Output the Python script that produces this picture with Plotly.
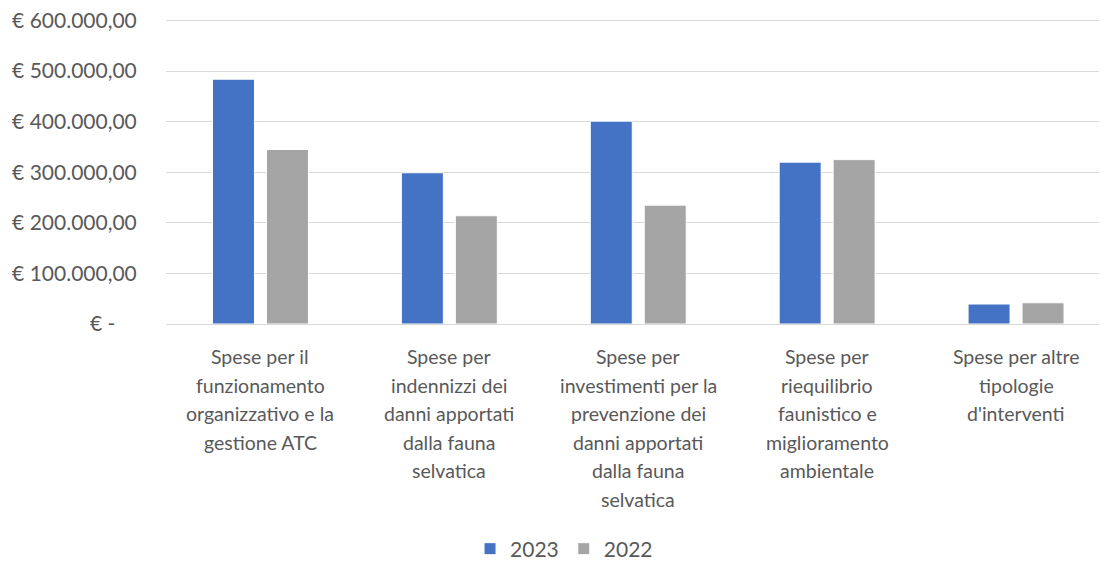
import plotly.graph_objects as go

categories = [
    "Spese per il<br>funzionamento<br>organizzativo e la<br>gestione ATC",
    "Spese per<br>indennizzi dei<br>danni apportati<br>dalla fauna<br>selvatica",
    "Spese per<br>investimenti per la<br>prevenzione dei<br>danni apportati<br>dalla fauna<br>selvatica",
    "Spese per<br>riequilibrio<br>faunistico e<br>miglioramento<br>ambientale",
    "Spese per altre<br>tipologie<br>d'interventi",
]
values_2023 = [484000, 299000, 401000, 320000, 39500]
values_2022 = [345000, 214000, 235000, 325000, 42000]
tick_vals = [0, 100000, 200000, 300000, 400000, 500000, 600000]
tick_text = ["€ -\u00a0\u00a0\u00a0\u00a0", "€ 100.000,00", "€ 200.000,00", "€ 300.000,00",
             "€ 400.000,00", "€ 500.000,00", "€ 600.000,00"]

FONT = "Lato"
TXT = "#595959"
LINE_PITCH = 28.6

fig = go.Figure()
fig.add_trace(go.Bar(x=list(range(5)), y=values_2023, name="2023",
                     marker=dict(color="#4472C4", line=dict(color="white", width=1))))
fig.add_trace(go.Bar(x=list(range(5)), y=values_2022, name="2022",
                     marker=dict(color="#A5A5A5", line=dict(color="white", width=1))))

# category labels, one annotation per line for Excel-like line spacing
for i, label in enumerate(categories):
    for k, line in enumerate(label.split("<br>")):
        fig.add_annotation(x=i, xref="x", y=0, yref="paper", text=line,
                           showarrow=False, xanchor="center", yanchor="middle",
                           yshift=-(32.5 + k * LINE_PITCH),
                           font=dict(size=19.5, color=TXT, family=FONT))

fig.update_layout(
    width=1099, height=556,
    margin=dict(l=158, r=0, t=11, b=240, autoexpand=False),
    paper_bgcolor="white", plot_bgcolor="white",
    barmode="group", bargap=0.4286, bargroupgap=0.222,
    font=dict(family=FONT, color=TXT, size=20),
    showlegend=True,
    legend=dict(orientation="h", x=0.423, xanchor="center", y=-0.805, yanchor="bottom",
                font=dict(size=21, color=TXT), itemwidth=30, traceorder="normal"),
)
fig.update_xaxes(
    range=[-0.5, 4.4815], showgrid=False, zeroline=False, automargin=False,
    showline=True, linecolor="#D9D9D9", linewidth=1,
    showticklabels=False, ticks="",
)
fig.update_yaxes(
    range=[0, 603000], tickmode="array", tickvals=tick_vals, ticktext=tick_text,
    showgrid=True, gridcolor="#D9D9D9", gridwidth=1, zeroline=False, automargin=False,
    ticks="outside", ticklen=24, tickcolor="rgba(0,0,0,0)", ticklabeloverflow="allow",
    tickfont=dict(size=21, color=TXT, family=FONT),
)
fig.write_html("out.html")
